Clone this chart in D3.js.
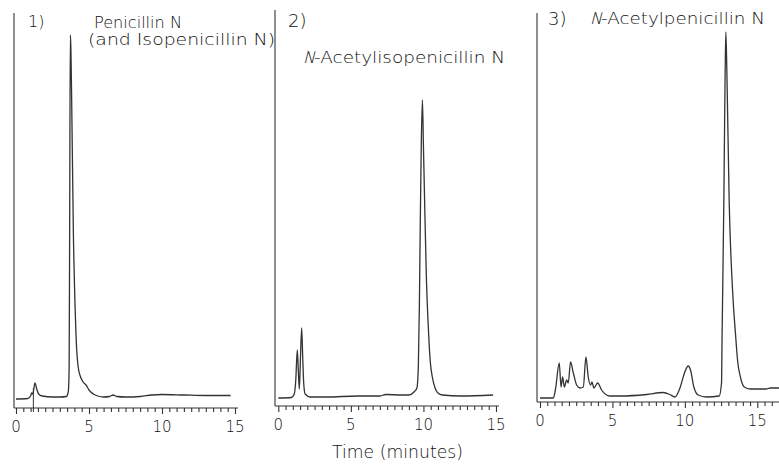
<!DOCTYPE html>
<html>
<head>
<meta charset="utf-8">
<script src="https://cdn.jsdelivr.net/npm/d3@7"></script>
<style>
  body { margin: 0; background: #fff; }
  svg text { font-family: "DejaVu Sans", sans-serif; font-weight: 200; fill: #111; }
</style>
</head>
<body>
<script>
// Chromatogram data: retention time (minutes) and detector signal (arbitrary units)
const times1 = [0, 0.8, 1.0, 1.07, 1.15, 1.3, 1.42, 1.55, 1.8, 2.5, 3.0, 3.45, 3.58, 3.64, 3.68, 3.72, 3.76, 3.82, 3.93, 4.05, 4.15, 4.25, 4.4, 4.6, 4.8, 5.0, 5.3, 5.6, 6.0, 6.4, 6.65, 6.9, 7.5, 8.5, 9.3, 10, 11.5, 13, 14.7];
const signal1 = [9, 9.5, 12, 15, 14, 25, 19, 14, 12, 11, 11, 11.5, 16, 40, 200, 373, 360, 300, 175, 100, 60, 42, 32, 26, 23, 18, 14, 12, 11, 11.5, 13, 11.5, 11, 11.5, 13, 13.5, 13, 12.5, 12.5];

const times2 = [0, 0.9, 1.1, 1.2, 1.31, 1.38, 1.45, 1.52, 1.61, 1.68, 1.75, 1.85, 2.2, 3.3, 5.5, 7.0, 7.4, 8.5, 9.0, 9.35, 9.55, 9.65, 9.72, 9.78, 9.85, 9.93, 10.0, 10.08, 10.2, 10.3, 10.4, 10.48, 10.6, 10.8, 11.0, 11.3, 12.6, 14.8];
const signal2 = [8, 8.5, 12, 25, 56, 35, 17, 45, 78, 50, 23, 12, 9, 9, 10, 10, 11.5, 11, 11, 14, 18, 40, 100, 180, 260, 306, 260, 206, 130, 90, 60, 43, 30, 18, 13, 11, 10, 11];

const times3 = [0, 0.92, 1.06, 1.33, 1.45, 1.56, 1.68, 1.84, 1.95, 2.11, 2.3, 2.53, 2.76, 2.99, 3.17, 3.33, 3.49, 3.59, 3.72, 3.98, 4.25, 4.83, 5.52, 7.36, 8.5, 8.97, 9.31, 9.66, 10.0, 10.23, 10.39, 10.62, 10.92, 11.49, 12.37, 12.53, 12.57, 12.69, 12.78, 12.83, 12.9, 13.06, 13.3, 13.5, 13.65, 13.85, 14.1, 14.5, 15.6, 15.9, 16.6];
const signal3 = [4, 4, 12, 39, 15, 25, 15, 22, 19, 40, 29, 17, 14, 15, 45, 25, 17, 20, 14, 19, 12, 6, 6, 7.5, 9.5, 7.5, 5, 14, 30, 36, 32, 15, 7, 5, 6, 19, 67, 200, 330, 370, 330, 200, 110, 67, 40, 24, 15, 13, 13, 14, 14];

const injectionTimes1 = [1.19];
const tickLabels = [0, 5, 10, 15];
const panelNumbers = ["1)", "2)", "3)"];
const xAxisTitle = "Time (minutes)";

// Panel layout (pixels)
const panels = [
  { times: times1, signal: signal1, x0: 16, x15: 235, axisY: 408, yTop: 13, yAxisX: 14, end: 15.2, inject: injectionTimes1 },
  { times: times2, signal: signal2, x0: 278.3, x15: 496, axisY: 406, yTop: 10, yAxisX: 275, end: 15.2, inject: [] },
  { times: times3, signal: signal3, x0: 540, x15: 757.3, axisY: 402, yTop: 13, yAxisX: 537, end: 16.6, inject: [] }
];

const width = 779, height = 466;
const svg = d3.select('body').append('svg')
  .attr('width', width)
  .attr('height', height);

const ink = '#333';

panels.forEach((p, i) => {
  const x = d3.scaleLinear().domain([0, 15]).range([p.x0, p.x15]);
  const y = d3.scaleLinear().domain([0, 400]).range([p.axisY, p.axisY - 400]);
  const g = svg.append('g');

  // y axis (plain vertical line)
  g.append('line')
    .attr('x1', p.yAxisX).attr('x2', p.yAxisX)
    .attr('y1', p.yTop).attr('y2', p.axisY)
    .attr('stroke', ink).attr('stroke-width', 1.1);

  // x axis with half-minute ticks
  const minor = d3.range(0, p.end + 0.01, 0.5);
  const axis = d3.axisBottom(x)
    .tickValues(minor)
    .tickSize(4)
    .tickFormat(() => '');
  const ax = g.append('g')
    .attr('transform', `translate(0,${p.axisY})`)
    .call(axis);
  ax.select('.domain').remove();
  ax.selectAll('.tick line').attr('stroke', ink).attr('stroke-width', 1.1)
    .attr('y2', d => d % 5 === 0 ? 6 : 4);
  g.append('line')
    .attr('x1', p.yAxisX).attr('x2', x(p.end))
    .attr('y1', p.axisY).attr('y2', p.axisY)
    .attr('stroke', ink).attr('stroke-width', 1.1);

  g.selectAll('.lbl').data(tickLabels).enter().append('text')
    .attr('class', 'lbl')
    .attr('x', d => x(d))
    .attr('y', p.axisY + 24)
    .attr('text-anchor', 'middle')
    .attr('font-size', 15)
    .text(d => d);

  // injection marker
  g.selectAll('.inj').data(p.inject).enter().append('line')
    .attr('x1', d => x(d)).attr('x2', d => x(d))
    .attr('y1', y(20)).attr('y2', p.axisY + 4)
    .attr('stroke', ink).attr('stroke-width', 1);

  // trace
  const pts = p.times.map((t, k) => [t, p.signal[k]]);
  const line = d3.line()
    .x(d => x(d[0]))
    .y(d => y(d[1]))
    .curve(d3.curveMonotoneX);
  g.append('path')
    .datum(pts)
    .attr('d', line)
    .attr('fill', 'none')
    .attr('stroke', ink)
    .attr('stroke-width', 1.3)
    .attr('stroke-linejoin', 'round');
});

// Panel numbers
const numPos = [[28, 27, 16], [288, 27, 18], [548, 25, 18]];
svg.selectAll('.num').data(panelNumbers).enter().append('text')
  .attr('class', 'num')
  .attr('x', (d, i) => numPos[i][0])
  .attr('y', (d, i) => numPos[i][1])
  .attr('font-size', (d, i) => numPos[i][2])
  .text(d => d);

// Compound names
svg.append('text').attr('x', 94).attr('y', 28).attr('font-size', 15)
  .attr('textLength', 88).attr('lengthAdjust', 'spacingAndGlyphs')
  .text('Penicillin N');
svg.append('text').attr('x', 88).attr('y', 45).attr('font-size', 15)
  .attr('textLength', 187).attr('lengthAdjust', 'spacingAndGlyphs')
  .text('(and Isopenicillin N)');

// names with a slanted leading "N"
function slantedName(xN, yN, rest, restLength) {
  svg.append('text')
    .attr('transform', `translate(${xN},${yN}) skewX(-14)`)
    .attr('font-size', 16)
    .text('N');
  svg.append('text').attr('x', xN + 11).attr('y', yN).attr('font-size', 15)
    .attr('textLength', restLength).attr('lengthAdjust', 'spacingAndGlyphs')
    .text(rest);
}
slantedName(303, 63, '-Acetylisopenicillin N', 191);
slantedName(590, 24, '-Acetylpenicillin N', 164);

svg.append('text').attr('x', 332).attr('y', 458).attr('font-size', 17)
  .attr('textLength', 131).attr('lengthAdjust', 'spacingAndGlyphs')
  .text(xAxisTitle);
</script>
</body>
</html>
